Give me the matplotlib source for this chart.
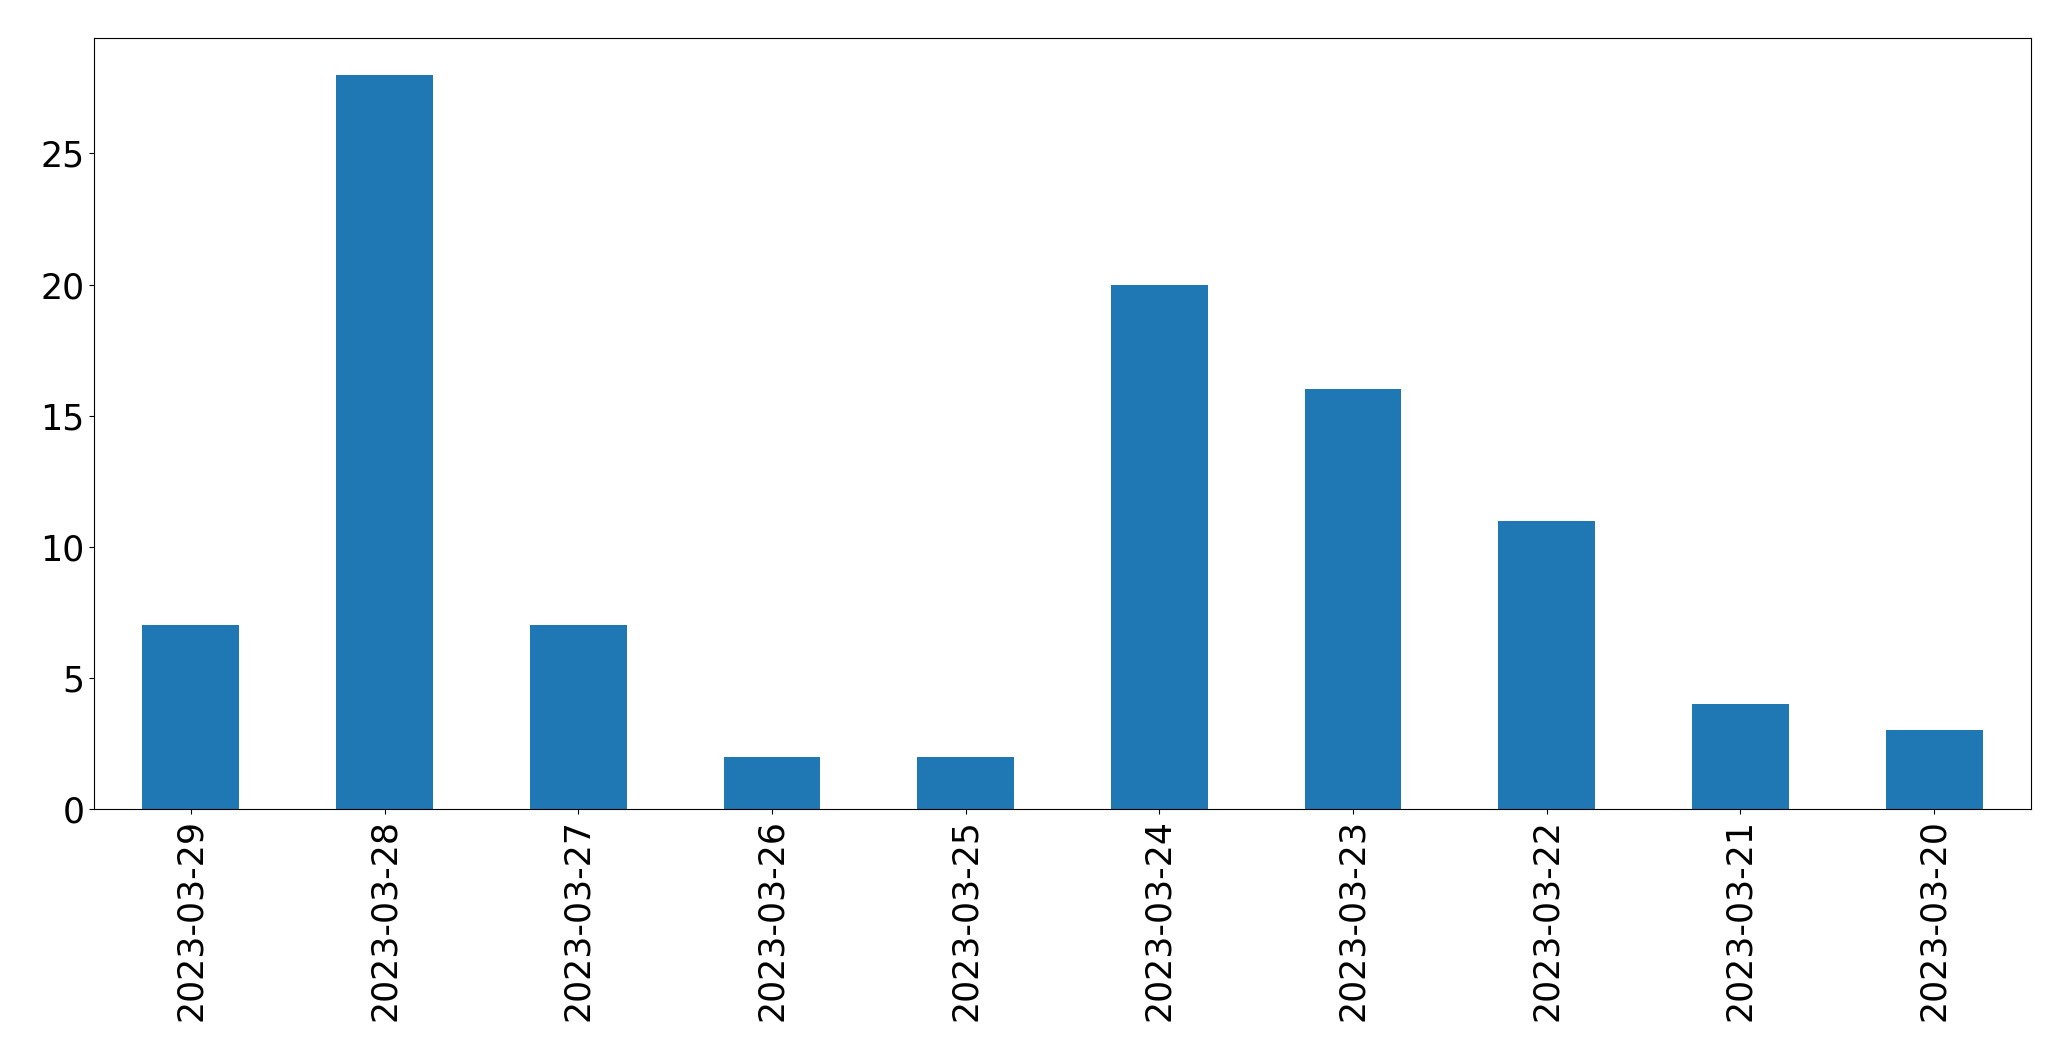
import matplotlib
matplotlib.use("Agg")
from matplotlib import pyplot as plt
import pandas as pd

dates = ["2023-03-29", "2023-03-28", "2023-03-27", "2023-03-26", "2023-03-25",
         "2023-03-24", "2023-03-23", "2023-03-22", "2023-03-21", "2023-03-20"]
counts = [7, 28, 7, 2, 2, 20, 16, 11, 4, 3]

series = pd.Series(counts, index = dates)

fig, ax = plt.subplots(figsize = (20.71, 10.61), dpi = 100)
series.plot(kind = "bar", ax = ax, color = "#1f77b4")
ax.tick_params(labelsize = 25)
fig.subplots_adjust(left = 94 / 2071, right = 2031 / 2071, top = 1 - 38 / 1061, bottom = 1 - 809 / 1061)
fig.savefig("out.png", dpi = 100)
plt.close(fig)
